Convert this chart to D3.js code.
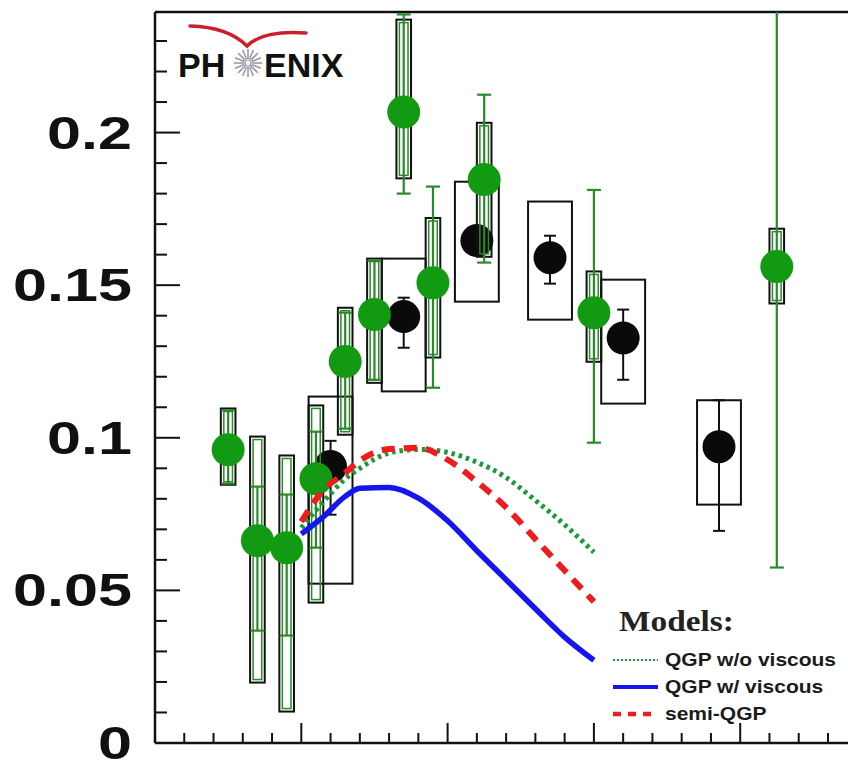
<!DOCTYPE html>
<html>
<head>
<meta charset="utf-8">
<script src="https://cdn.jsdelivr.net/npm/d3@7"></script>
<style>
  html, body { margin: 0; padding: 0; background: #fff; }
  svg { display: block; }
</style>
</head>
<body>
<svg id="chart" width="848" height="762"></svg>
<script>
// Direct-photon v2 vs pT: two data sets with statistical bars and systematic boxes,
// plus three hydrodynamic model curves.

// Green data set
const greenPt     = [0.50, 0.70, 0.90, 1.10, 1.30, 1.50, 1.70, 1.90, 2.25, 3.00, 4.25];
const greenV2     = [0.0961, 0.0663, 0.0640, 0.0866, 0.1250, 0.1404, 0.2067, 0.1508, 0.1846, 0.1410, 0.1561];
const greenStatLo = [0.0850, 0.0368, 0.0352, 0.0640, 0.1030, 0.1190, 0.1800, 0.1164, 0.1574, 0.0984, 0.0575];
const greenStatHi = [0.1090, 0.0840, 0.0814, 0.1020, 0.1410, 0.1580, 0.2387, 0.1823, 0.2124, 0.1812, 0.2600];
const greenSysLo  = [0.0846, 0.0198, 0.0103, 0.0460, 0.1010, 0.1180, 0.1850, 0.1263, 0.1593, 0.1249, 0.1440];
const greenSysHi  = [0.1096, 0.1004, 0.0942, 0.1106, 0.1426, 0.1587, 0.2370, 0.1720, 0.2032, 0.1545, 0.1685];

// Black data set
const blackPt     = [1.20, 1.70, 2.20, 2.70, 3.20, 3.855];
const blackV2     = [0.0906, 0.1397, 0.1646, 0.1590, 0.1327, 0.0971];
const blackStatLo = [0.0748, 0.1295, 0.1600, 0.1505, 0.1190, 0.0695];
const blackStatHi = [0.0990, 0.1459, 0.1690, 0.1662, 0.1420, 0.1123];
const blackSysLo  = [0.0522, 0.1152, 0.1446, 0.1387, 0.1112, 0.0781];
const blackSysHi  = [0.1135, 0.1587, 0.1839, 0.1774, 0.1518, 0.1123];

// Model curves
const modelPt       = [1.00, 1.15, 1.30, 1.40, 1.60, 1.80, 2.00, 2.20, 2.40, 2.60, 2.80, 3.00];
const qgpIdeal      = [0.0705, 0.0790, 0.0865, 0.0900, 0.0950, 0.0962, 0.0952, 0.0920, 0.0870, 0.0795, 0.0715, 0.0625];
const qgpViscous    = [0.0685, 0.0741, 0.0808, 0.0835, 0.0837, 0.0802, 0.0728, 0.0630, 0.0535, 0.0440, 0.0347, 0.0271];
const semiQgp       = [0.0725, 0.0828, 0.0885, 0.0925, 0.0963, 0.0967, 0.0928, 0.0856, 0.0772, 0.0668, 0.0565, 0.0463];

// Axis ticks
const yTickLabels = ["0", "0.05", "0.1", "0.15", "0.2"];
const yMajor = [0, 0.05, 0.10, 0.15, 0.20];
const legendLabels = ["QGP w/o viscous", "QGP w/ viscous", "semi-QGP"];

const svg = d3.select("#chart");
const plotLeft = 155, plotTop = 12, plotBottom = 743;

const x = d3.scaleLinear().domain([0, 4.8]).range([plotLeft, plotLeft + 4.8 * 146.3]);
const y = d3.scaleLinear().domain([0, 0.2395]).range([plotBottom, plotTop]);

const GREEN = "#129a12";
const GREEN_BAR = "#2a8a2a";

svg.append("defs").append("clipPath").attr("id", "plotClip")
  .append("rect").attr("x", plotLeft).attr("y", plotTop)
  .attr("width", 848 - plotLeft).attr("height", plotBottom - plotTop);

// Frame
const frame = svg.append("g").attr("stroke", "#111").attr("stroke-width", 2.5).attr("fill", "none");
frame.append("line").attr("x1", plotLeft).attr("x2", 860).attr("y1", plotTop).attr("y2", plotTop);
frame.append("line").attr("x1", plotLeft).attr("x2", plotLeft).attr("y1", plotTop).attr("y2", plotBottom);
frame.append("line").attr("x1", plotLeft).attr("x2", 860).attr("y1", plotBottom).attr("y2", plotBottom);

// Y ticks (inward)
const yMinor = d3.range(0, 0.24, 0.01);
svg.append("g").attr("stroke", "#111").attr("stroke-width", 2)
  .selectAll("line").data(yMinor).join("line")
  .attr("x1", plotLeft).attr("y1", d => y(d)).attr("y2", d => y(d))
  .attr("x2", d => plotLeft + (Math.abs(d * 20 - Math.round(d * 20)) < 1e-6 ? 25 : 12));

// X ticks (inward)
const xMinor = d3.range(0, 4.81, 0.2);
svg.append("g").attr("stroke", "#111").attr("stroke-width", 2)
  .selectAll("line").data(xMinor).join("line")
  .attr("x1", d => x(d)).attr("x2", d => x(d)).attr("y1", plotBottom)
  .attr("y2", d => plotBottom - (Math.abs(d - Math.round(d)) < 1e-6 ? 20 : 10));

// Y tick labels
svg.append("g").selectAll("g").data(yMajor).join("g")
  .attr("transform", d => `translate(132,${y(d)}) scale(1.3,1)`)
  .append("text")
  .attr("text-anchor", "end").attr("dy", "0.34em")
  .attr("font-family", "Liberation Sans, Arial, sans-serif").attr("font-weight", "bold")
  .attr("font-size", 47).attr("fill", "#111")
  .text((d, i) => yTickLabels[i]);

// PHENIX logo
const logo = svg.append("g");
logo.append("path")
  .attr("d", "M190,26 Q228,27 247,46 Q263,30 306,33")
  .attr("fill", "none").attr("stroke", "#cc1f2c").attr("stroke-width", 3.5)
  .attr("stroke-linecap", "round");
const logoFont = "Liberation Sans, Arial, sans-serif";
logo.append("text").attr("x", 178).attr("y", 77).attr("font-family", logoFont).attr("font-weight", "bold")
  .attr("font-size", 34).attr("fill", "#111").text("PH");
logo.append("text").attr("x", 264).attr("y", 77).attr("font-family", logoFont).attr("font-weight", "bold")
  .attr("font-size", 34).attr("fill", "#111").text("ENIX");
const rays = d3.range(16).map(i => i * Math.PI / 8);
logo.append("g").attr("stroke", "#9a9aa8").attr("stroke-width", 1.6)
  .selectAll("line").data(rays).join("line")
  .attr("x1", a => 248 + 4 * Math.cos(a)).attr("y1", a => 63 + 4 * Math.sin(a))
  .attr("x2", a => 248 + 14 * Math.cos(a)).attr("y2", a => 63 + 14 * Math.sin(a));
logo.append("circle").attr("cx", 248).attr("cy", 63).attr("r", 3).attr("fill", "none")
  .attr("stroke", "#9a9aa8").attr("stroke-width", 1.2);

const plot = svg.append("g").attr("clip-path", "url(#plotClip)");

const idxB = d3.range(blackPt.length);
const idxG = d3.range(greenPt.length);

// Black systematic boxes
plot.append("g").selectAll("rect").data(idxB).join("rect")
  .attr("x", i => x(blackPt[i] - 0.15)).attr("width", i => x(blackPt[i] + 0.15) - x(blackPt[i] - 0.15))
  .attr("y", i => y(blackSysHi[i])).attr("height", i => y(blackSysLo[i]) - y(blackSysHi[i]))
  .attr("fill", "none").attr("stroke", "#111").attr("stroke-width", 2);

// Black statistical bars
const bBars = plot.append("g").attr("stroke", "#111").attr("stroke-width", 2);
bBars.selectAll("line.v").data(idxB).join("line").attr("class", "v")
  .attr("x1", i => x(blackPt[i])).attr("x2", i => x(blackPt[i]))
  .attr("y1", i => y(blackStatHi[i])).attr("y2", i => y(blackStatLo[i]));
bBars.selectAll("line.hi").data(idxB).join("line").attr("class", "hi")
  .attr("x1", i => x(blackPt[i]) - 6).attr("x2", i => x(blackPt[i]) + 6)
  .attr("y1", i => y(blackStatHi[i])).attr("y2", i => y(blackStatHi[i]));
bBars.selectAll("line.lo").data(idxB).join("line").attr("class", "lo")
  .attr("x1", i => x(blackPt[i]) - 6).attr("x2", i => x(blackPt[i]) + 6)
  .attr("y1", i => y(blackStatLo[i])).attr("y2", i => y(blackStatLo[i]));

// Black markers
plot.append("g").selectAll("circle").data(idxB).join("circle")
  .attr("cx", i => x(blackPt[i])).attr("cy", i => y(blackV2[i])).attr("r", 16.5).attr("fill", "#0a0a0a");

// Green systematic boxes: black outline with a green inner outline
const gHalf = 0.05;
plot.append("g").selectAll("rect").data(idxG).join("rect")
  .attr("x", i => x(greenPt[i] - gHalf)).attr("width", i => x(greenPt[i] + gHalf) - x(greenPt[i] - gHalf))
  .attr("y", i => y(greenSysHi[i])).attr("height", i => y(greenSysLo[i]) - y(greenSysHi[i]))
  .attr("fill", "none").attr("stroke", "#111").attr("stroke-width", 2);
plot.append("g").selectAll("rect").data(idxG).join("rect")
  .attr("x", i => x(greenPt[i] - gHalf) + 3).attr("width", i => x(greenPt[i] + gHalf) - x(greenPt[i] - gHalf) - 6)
  .attr("y", i => y(greenSysHi[i]) + 3).attr("height", i => Math.max(0, y(greenSysLo[i]) - y(greenSysHi[i]) - 6))
  .attr("fill", "none").attr("stroke", GREEN_BAR).attr("stroke-width", 1.5);

// Green statistical bars
const gBars = plot.append("g").attr("stroke", GREEN_BAR).attr("stroke-width", 2.2);
gBars.selectAll("line.v").data(idxG).join("line").attr("class", "v")
  .attr("x1", i => x(greenPt[i])).attr("x2", i => x(greenPt[i]))
  .attr("y1", i => y(greenStatHi[i])).attr("y2", i => y(greenStatLo[i]));
gBars.selectAll("line.hi").data(idxG).join("line").attr("class", "hi")
  .attr("x1", i => x(greenPt[i]) - 7).attr("x2", i => x(greenPt[i]) + 7)
  .attr("y1", i => y(greenStatHi[i])).attr("y2", i => y(greenStatHi[i]));
gBars.selectAll("line.lo").data(idxG).join("line").attr("class", "lo")
  .attr("x1", i => x(greenPt[i]) - 7).attr("x2", i => x(greenPt[i]) + 7)
  .attr("y1", i => y(greenStatLo[i])).attr("y2", i => y(greenStatLo[i]));

// Green markers
plot.append("g").selectAll("circle").data(idxG).join("circle")
  .attr("cx", i => x(greenPt[i])).attr("cy", i => y(greenV2[i])).attr("r", 16.5).attr("fill", GREEN);

// Model curves
const line = d3.line().x(d => x(d[0])).y(d => y(d[1])).curve(d3.curveMonotoneX);
const models = [
  { vals: qgpIdeal,   color: "#1b9a3c", width: 5,   dash: "3.5,4" },
  { vals: semiQgp,    color: "#ee1c1c", width: 6,   dash: "13,9" },
  { vals: qgpViscous, color: "#1515f0", width: 5.5, dash: null }
];
plot.append("g").selectAll("path").data(models).join("path")
  .attr("d", m => line(modelPt.map((p, i) => [p, m.vals[i]])))
  .attr("fill", "none").attr("stroke", m => m.color).attr("stroke-width", m => m.width)
  .attr("stroke-dasharray", m => m.dash);

// Legend
const legend = svg.append("g");
legend.append("g").attr("transform", "translate(619,631) scale(1.15,1)")
  .append("text").attr("font-family", "Liberation Serif, Times New Roman, serif")
  .attr("font-weight", "bold").attr("font-size", 29).attr("fill", "#222").text("Models:");
const legendStyles = [
  { color: "#1b9a3c", width: 2,   dash: "2,2" },
  { color: "#1515f0", width: 4,   dash: null },
  { color: "#ee1c1c", width: 4.5, dash: "8,7" }
];
const rowY = [660, 687, 714];
legend.selectAll("line").data(legendStyles).join("line")
  .attr("x1", 613).attr("x2", 658).attr("y1", (d, i) => rowY[i]).attr("y2", (d, i) => rowY[i])
  .attr("stroke", d => d.color).attr("stroke-width", d => d.width).attr("stroke-dasharray", d => d.dash);
legend.selectAll("g.lbl").data(legendLabels).join("g").attr("class", "lbl")
  .attr("transform", (d, i) => `translate(665,${rowY[i] + 6}) scale(1.2,1)`)
  .append("text").attr("font-family", "Liberation Sans, Arial, sans-serif").attr("font-weight", "bold")
  .attr("font-size", 17.5).attr("fill", "#1a1a1a").text(d => d);
</script>
</body>
</html>
